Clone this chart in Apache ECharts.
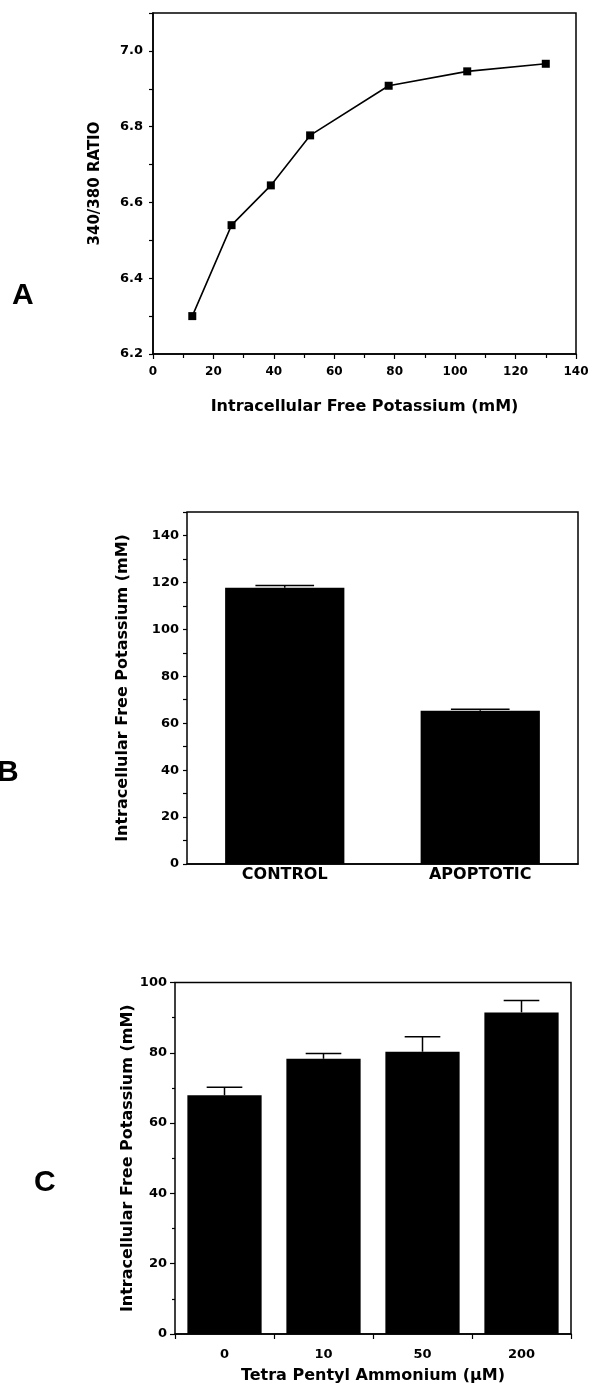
<!DOCTYPE html>
<html>
<head>
<meta charset="utf-8">
<script src="https://cdn.jsdelivr.net/npm/echarts@6/dist/echarts.min.js"></script>
<style>
  html, body { margin: 0; padding: 0; background: #fff; }
  #chart { width: 593px; height: 1387px; }
</style>
</head>
<body>
<div id="chart"></div>
<script>
// ---- Panel A data ----
const potassiumA = [13, 26, 39, 52, 78, 104, 130];
const ratioA = [6.30, 6.54, 6.645, 6.777, 6.908, 6.946, 6.966];

// ---- Panel B data ----
const categoriesB = ['CONTROL', 'APOPTOTIC'];
const valuesB = [117.7, 65.3];
const errorsB = [1.0, 0.6];

// ---- Panel C data ----
const categoriesC = ['0', '10', '50', '200'];
const valuesC = [67.9, 78.3, 80.3, 91.5];
const errorsC = [2.3, 1.5, 4.3, 3.4];

const FONT = 'DejaVu Sans';
const axisLineStyle = { color: '#000', width: 1.5 };
const tickLbl = { color: '#000', fontFamily: FONT, fontWeight: 'bold', fontSize: 13 };
const nameStyle = { color: '#000', fontFamily: FONT, fontWeight: 'bold', fontSize: 16 };

function errorRender(capFrac) {
  return function (params, api) {
    const x = api.value(0), y = api.value(1), e = api.value(2);
    const p0 = api.coord([x, y]);
    const p1 = api.coord([x, y + e]);
    const w = api.size([1, 0])[0] * capFrac;
    const st = { stroke: '#000', lineWidth: 1.5 };
    return {
      type: 'group',
      children: [
        { type: 'line', shape: { x1: p0[0], y1: p0[1], x2: p1[0], y2: p1[1] }, style: st },
        { type: 'line', shape: { x1: p1[0] - w / 2, y1: p1[1], x2: p1[0] + w / 2, y2: p1[1] }, style: st }
      ]
    };
  };
}

const chart = echarts.init(document.getElementById('chart'), null, { renderer: 'canvas' });

const option = {
  backgroundColor: '#fff',
  animation: false,
  grid: [
    { left: 153, top: 13, width: 423, height: 341, show: true, borderColor: '#000', borderWidth: 1.5, backgroundColor: 'transparent' },
    { left: 187, top: 512, width: 391, height: 352, show: true, borderColor: '#000', borderWidth: 1.5, backgroundColor: 'transparent' },
    { left: 175, top: 982.5, width: 396, height: 351.5, show: true, borderColor: '#000', borderWidth: 1.5, backgroundColor: 'transparent' }
  ],
  xAxis: [
    {
      gridIndex: 0, type: 'value', min: 0, max: 140, interval: 20,
      name: 'Intracellular Free Potassium (mM)', nameLocation: 'middle', nameGap: 45,
      nameMoveOverlap: false,
      nameTextStyle: nameStyle,
      axisLine: { lineStyle: axisLineStyle },
      axisTick: { show: true, inside: false, length: 5, lineStyle: { color: '#000', width: 1.2 } },
      minorTick: { show: true, splitNumber: 2, length: 4, lineStyle: { color: '#000', width: 1.2 } },
      axisLabel: { color: '#000', fontFamily: FONT, fontWeight: 'bold', fontSize: 12, margin: 12 },
      splitLine: { show: false }
    },
    {
      gridIndex: 1, type: 'category', data: categoriesB,
      axisLine: { lineStyle: axisLineStyle },
      axisTick: { show: false },
      axisLabel: { color: '#000', fontFamily: FONT, fontWeight: 'bold', fontSize: 16, margin: 3 },
      splitLine: { show: false }
    },
    {
      gridIndex: 2, type: 'category', data: categoriesC,
      name: 'Tetra Pentyl Ammonium (\u03bcM)', nameLocation: 'middle', nameGap: 34,
      nameMoveOverlap: false,
      nameTextStyle: nameStyle,
      axisLine: { lineStyle: axisLineStyle },
      axisTick: { show: true, inside: false, length: 5, lineStyle: { color: '#000', width: 1.2 } },
      axisLabel: Object.assign({ margin: 14 }, tickLbl),
      splitLine: { show: false }
    }
  ],
  yAxis: [
    {
      gridIndex: 0, type: 'value', min: 6.2, max: 7.1, interval: 0.1,
      name: '340/380 RATIO', nameLocation: 'middle', nameGap: 50, nameRotate: 90,
      nameMoveOverlap: false,
      nameTextStyle: Object.assign({}, nameStyle, { fontSize: 15 }),
      axisLine: { lineStyle: axisLineStyle },
      axisTick: { show: true, inside: false, length: 4, lineStyle: { color: '#000', width: 1.2 } },
      axisLabel: Object.assign({
        margin: 10,
        formatter: function (v) {
          const t = Math.round(v * 10);
          return (t % 2 === 0 && t <= 70) ? (t / 10).toFixed(1) : '';
        }
      }, tickLbl),
      splitLine: { show: false }
    },
    {
      gridIndex: 1, type: 'value', min: 0, max: 150, interval: 10,
      name: 'Intracellular Free Potassium (mM)', nameLocation: 'middle', nameGap: 56, nameRotate: 90,
      nameMoveOverlap: false,
      nameTextStyle: nameStyle,
      axisLine: { lineStyle: axisLineStyle },
      axisTick: { show: true, inside: false, length: 4, lineStyle: { color: '#000', width: 1.2 } },
      axisLabel: Object.assign({
        margin: 8,
        formatter: function (v) {
          const t = Math.round(v);
          return (t % 20 === 0 && t <= 140) ? String(t) : '';
        }
      }, tickLbl),
      splitLine: { show: false }
    },
    {
      gridIndex: 2, type: 'value', min: 0, max: 100, interval: 20,
      name: 'Intracellular Free Potassium (mM)', nameLocation: 'middle', nameGap: 39, nameRotate: 90,
      nameMoveOverlap: false,
      nameTextStyle: nameStyle,
      axisLine: { lineStyle: axisLineStyle },
      axisTick: { show: true, inside: false, length: 5, lineStyle: { color: '#000', width: 1.2 } },
      minorTick: { show: true, splitNumber: 2, length: 3, lineStyle: { color: '#000', width: 1.2 } },
      axisLabel: Object.assign({ margin: 8 }, tickLbl),
      splitLine: { show: false }
    }
  ],
  series: [
    {
      type: 'line', xAxisIndex: 0, yAxisIndex: 0,
      data: potassiumA.map((x, i) => [x, ratioA[i]]),
      symbol: 'rect', symbolSize: 8,
      itemStyle: { color: '#000' },
      lineStyle: { color: '#000', width: 1.6 }
    },
    {
      type: 'bar', xAxisIndex: 1, yAxisIndex: 1,
      data: valuesB, barWidth: '61%',
      itemStyle: { color: '#000' }
    },
    {
      type: 'custom', xAxisIndex: 1, yAxisIndex: 1,
      renderItem: errorRender(0.3),
      data: valuesB.map((v, i) => [i, v, errorsB[i]]),
      encode: { x: 0, y: 1 }, z: 10
    },
    {
      type: 'bar', xAxisIndex: 2, yAxisIndex: 2,
      data: valuesC, barWidth: '75%',
      itemStyle: { color: '#000' }
    },
    {
      type: 'custom', xAxisIndex: 2, yAxisIndex: 2,
      renderItem: errorRender(0.36),
      data: valuesC.map((v, i) => [i, v, errorsC[i]]),
      encode: { x: 0, y: 1 }, z: 10
    }
  ],
  graphic: [
    { type: 'text', left: 12, top: 281, style: { text: 'A', font: 'bold 30px "Liberation Sans"', fill: '#000' } },
    { type: 'text', left: -3, top: 758, style: { text: 'B', font: 'bold 30px "Liberation Sans"', fill: '#000' } },
    { type: 'text', left: 34, top: 1168, style: { text: 'C', font: 'bold 30px "Liberation Sans"', fill: '#000' } }
  ]
};

chart.setOption(option);
</script>
</body>
</html>
